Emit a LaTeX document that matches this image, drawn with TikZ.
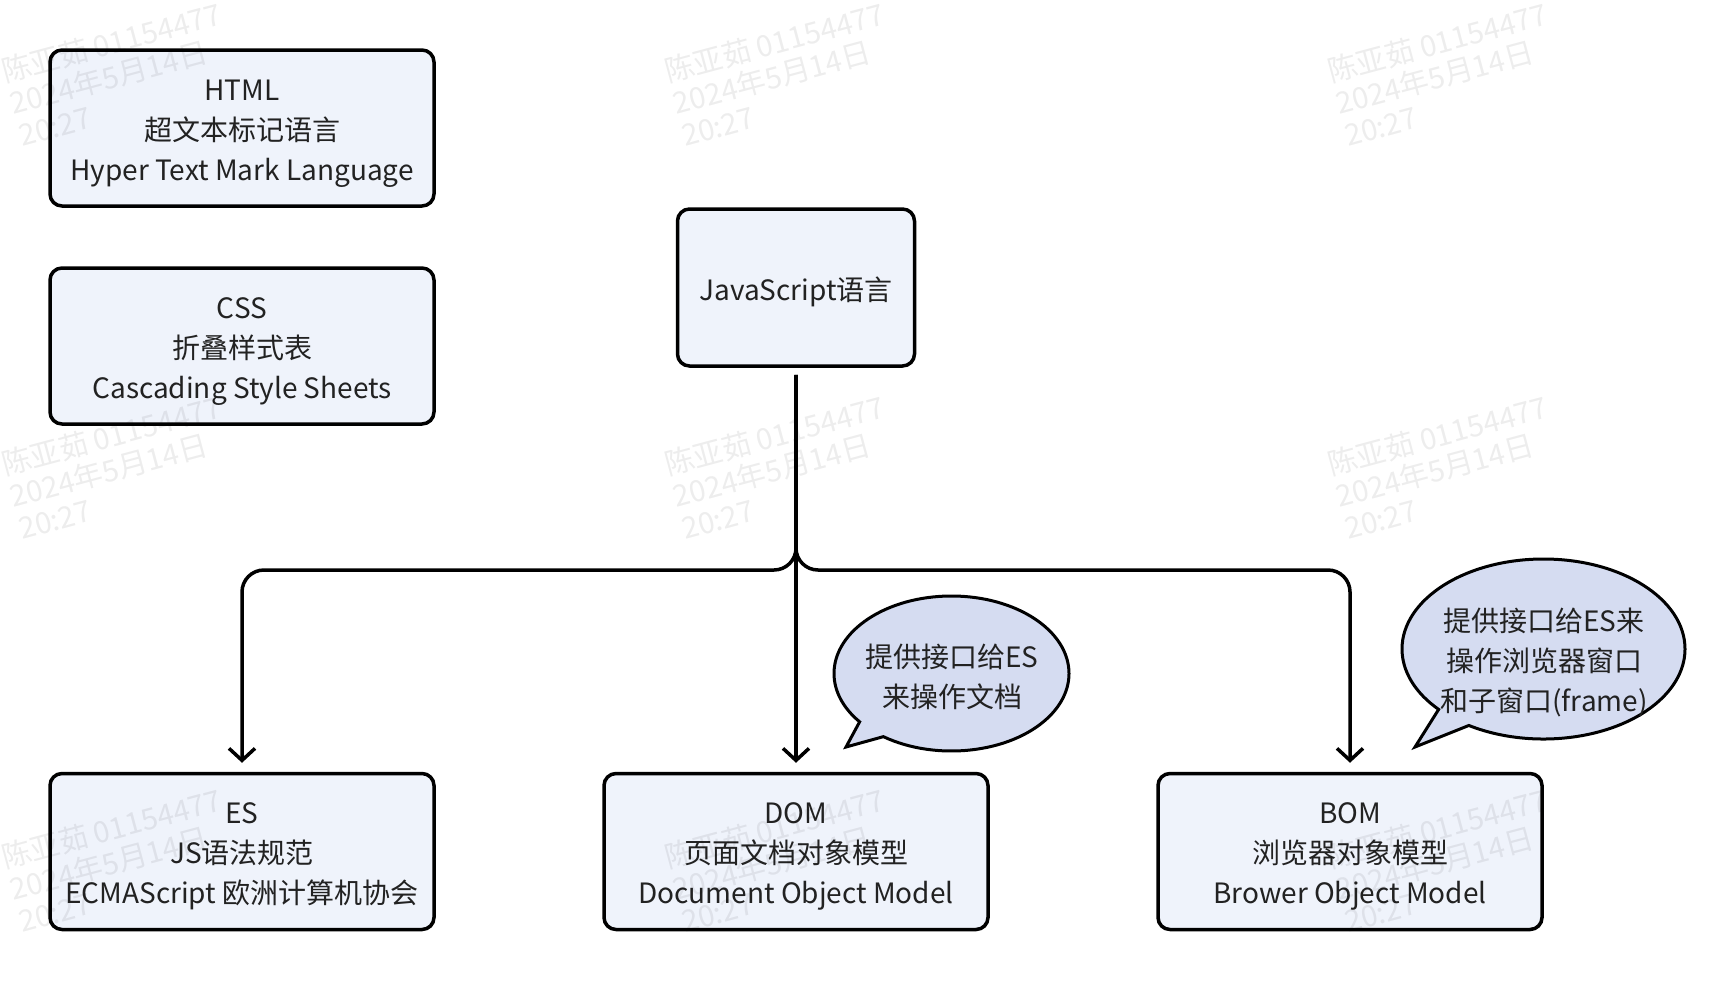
\documentclass[tikz,border=0pt]{standalone}
\usepackage{fontspec}
\setmainfont{Noto Sans CJK SC}
\usetikzlibrary{arrows.meta,shapes.callouts}
\definecolor{boxfill}{HTML}{EFF3FB}
\definecolor{bubblefill}{HTML}{D5DCF1}
\definecolor{ink}{HTML}{222222}

\begin{document}
\begin{tikzpicture}[x=1pt,y=-1pt,
  txt/.style={font=\fontsize{28}{40}\selectfont, text=ink, align=center, inner sep=0pt},
  cardtext/.style={txt, anchor=base},
  card/.style={draw=black, line width=3.5pt, fill=boxfill, rounded corners=12pt, inner sep=0pt},
  wide/.style={card, minimum width=384pt, minimum height=156pt},
  bubble/.style={ellipse callout, draw=black, line width=3pt, fill=bubblefill, inner sep=0pt, callout pointer arc=16},
  conn/.style={draw=black, line width=3.5pt, -{Straight Barb[length=12pt,width=26pt,line width=3.5pt]}, shorten <=7pt, shorten >=9pt},
  wm/.style={font=\fontsize{29.5}{33}\selectfont, text=black, text opacity=0.07, rotate=15, anchor=base west, align=left, inner sep=0pt}
]
\useasboundingbox[fill=white] (0,0) rectangle (1736,980);

% top-left reference boxes
\node[wide] (html) at (242,128) {};
\node[cardtext] (htmltext) at ([yshift=-52pt]html.center) {HTML\\超文本标记语言\\Hyper Text Mark Language};
\node[wide] (css)  at (242,346) {};
\node[cardtext] (csstext) at ([yshift=-52pt]css.center) {CSS\\折叠样式表\\Cascading Style Sheets};

% the language itself
\node[card, minimum width=237pt, minimum height=157pt] (js) at (796,287.5) {};
\node[cardtext] (jstext) at ([yshift=-13pt]js.center) {JavaScript语言};

% its three parts
\node[wide] (es)  at (242,851.5) {};
\node[cardtext] (estext) at ([yshift=-52pt]es.center) {ES\\JS语法规范\\ECMAScript 欧洲计算机协会};
\node[wide] (dom) at (796,851.5) {};
\node[cardtext] (domtext) at ([yshift=-52pt]dom.center) {DOM\\页面文档对象模型\\Document Object Model};
\node[wide] (bom) at (1350,851.5) {};
\node[cardtext] (bomtext) at ([yshift=-52pt]bom.center) {BOM\\浏览器对象模型\\Brower Object Model};

% branching connectors
\coordinate (split) at (796,570);
\draw[conn] (js) -- (dom);
\draw[conn, rounded corners=22pt] (js.south) -- (split) -| (es.north);
\draw[conn, rounded corners=22pt] (js.south) -- (split) -| (bom.north);

% speech bubbles
\node[bubble, minimum width=235pt, minimum height=155pt, callout absolute pointer={(846,747)}] (domnote) at (951.5,673.5) {};
\node[txt] (domnotetext) at (952,677) {提供接口给ES\\来操作文档};
\node[bubble, minimum width=283pt, minimum height=180pt, callout absolute pointer={(1415,747)}] (bomnote) at (1543.5,649) {};
\node[txt] (bomnotetext) at (1544,662) {提供接口给ES来\\操作浏览器窗口\\和子窗口(frame)};

% watermark grid (anchored at the last line's baseline)
\foreach \wx in {5,668,1331}{
  \foreach \wy in {83,476,869}{
    \node[wm] at (\wx+17,\wy+63.7) {陈亚茹 01154477\\2024年5月14日\\20:27};
  }
}
\end{tikzpicture}
\end{document}
